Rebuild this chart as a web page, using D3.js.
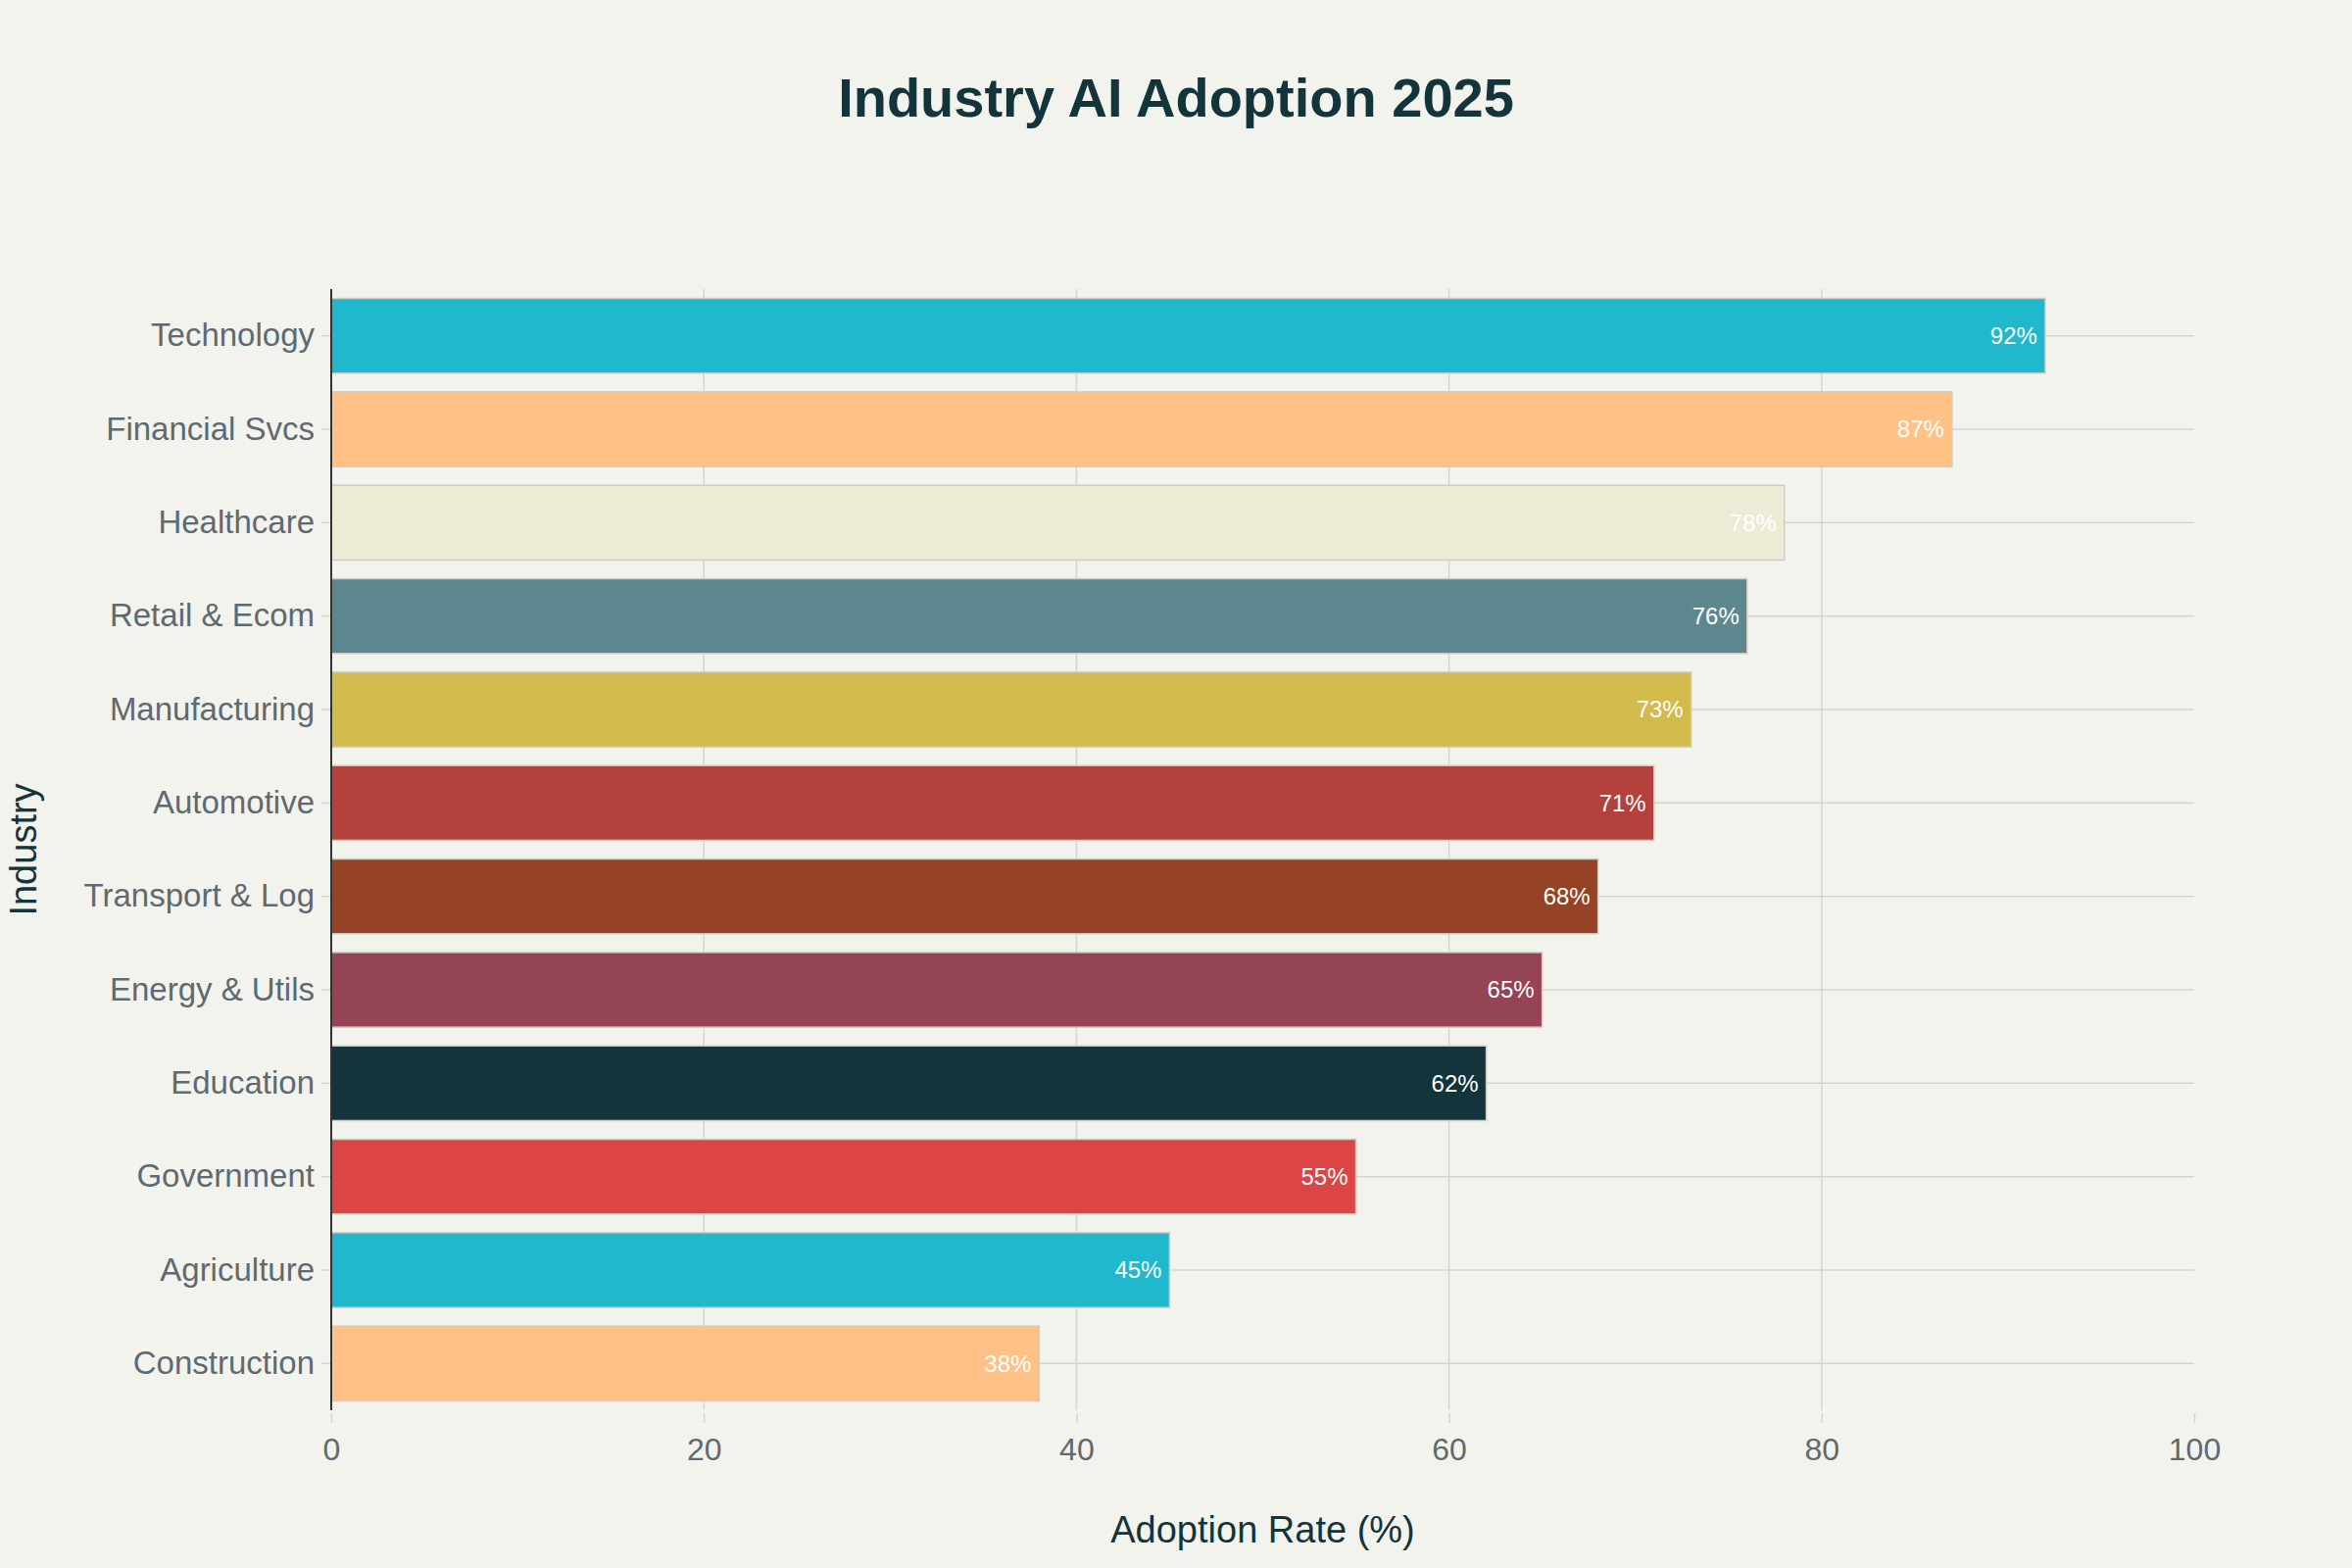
<!DOCTYPE html>
<html>
<head>
<meta charset="utf-8">
<script src="https://cdn.jsdelivr.net/npm/d3@7"></script>
<style>
  html, body { margin: 0; padding: 0; background: #F3F3EE; }
  svg { display: block; font-family: "Liberation Sans", Arial, sans-serif; }
</style>
</head>
<body>
<svg></svg>
<script>
const industries = ["Technology", "Financial Svcs", "Healthcare", "Retail & Ecom", "Manufacturing",
    "Automotive", "Transport & Log", "Energy & Utils", "Education", "Government", "Agriculture", "Construction"];
const adoption = [92, 87, 78, 76, 73, 71, 68, 65, 62, 55, 45, 38];
const xTicks = [0, 20, 40, 60, 80, 100];

const palette = ["#1FB8CD", "#FFC185", "#ECEBD5", "#5D878F", "#D2BA4C",
    "#B4413C", "#964325", "#944454", "#13343B", "#DB4545"];

const data = industries.map((name, i) => ({ name, value: adoption[i], color: palette[i % palette.length] }));

const width = 2400;
const height = 1600;
const margin = { top: 295, right: 161, bottom: 161, left: 338 };

const svg = d3.select("svg")
    .attr("width", width)
    .attr("height", height);

svg.append("rect").attr("width", width).attr("height", height).attr("fill", "#F3F3EE");

const x = d3.scaleLinear()
    .domain([0, 100])
    .range([margin.left, width - margin.right]);

const y = d3.scaleBand()
    .domain(industries)
    .range([margin.top, height - margin.bottom])
    .paddingInner(0.2)
    .paddingOuter(0.1);

const gridColor = "#D6D4CE";

// vertical grid
svg.append("g")
    .selectAll("line")
    .data(xTicks.filter(d => d > 0 && d < 100))
    .enter().append("line")
    .attr("x1", d => x(d)).attr("x2", d => x(d))
    .attr("y1", margin.top).attr("y2", height - margin.bottom)
    .attr("stroke", gridColor).attr("stroke-width", 1.5);

// category grid
svg.append("g")
    .selectAll("line")
    .data(industries)
    .enter().append("line")
    .attr("x1", margin.left).attr("x2", width - margin.right)
    .attr("y1", d => y(d) + y.bandwidth() / 2).attr("y2", d => y(d) + y.bandwidth() / 2)
    .attr("stroke", gridColor).attr("stroke-width", 1.5);

// bars
svg.append("g")
    .selectAll("rect")
    .data(data)
    .enter().append("rect")
    .attr("x", x(0))
    .attr("y", d => y(d.name))
    .attr("width", d => x(d.value) - x(0))
    .attr("height", y.bandwidth())
    .attr("fill", d => d.color)
    .attr("stroke", "#CFCCC2")
    .attr("stroke-width", 1.5);

// value labels
svg.append("g")
    .selectAll("text")
    .data(data)
    .enter().append("text")
    .attr("x", d => x(d.value) - 8)
    .attr("y", d => y(d.name) + y.bandwidth() / 2)
    .attr("dy", "0.35em")
    .attr("text-anchor", "end")
    .attr("fill", "#FFFFFF")
    .attr("font-size", 24)
    .text(d => `${d.value}%`);

// x axis
const xAxis = svg.append("g")
    .attr("transform", `translate(0,${height - margin.bottom})`)
    .call(d3.axisBottom(x).tickValues(xTicks).tickSize(0).tickPadding(0));
xAxis.select(".domain").remove();
xAxis.selectAll(".tick line").remove();
xAxis.selectAll(".tick").append("line")
    .attr("y1", 3).attr("y2", 13)
    .attr("stroke", gridColor).attr("stroke-width", 1.5);
xAxis.selectAll(".tick text")
    .attr("y", 51)
    .attr("dy", 0)
    .attr("font-size", 32)
    .attr("font-family", "Liberation Sans, Arial, sans-serif")
    .attr("fill", "#5E6A70");

// y axis
const yAxis = svg.append("g")
    .attr("transform", `translate(${margin.left},0)`)
    .call(d3.axisLeft(y).tickSize(0).tickPadding(0));
yAxis.select(".domain").remove();
yAxis.selectAll(".tick line").remove();
yAxis.selectAll(".tick").append("line")
    .attr("x1", -10).attr("x2", -1)
    .attr("stroke", gridColor).attr("stroke-width", 1.5);
yAxis.selectAll(".tick text")
    .attr("x", -17)
    .attr("font-size", 33)
    .attr("font-family", "Liberation Sans, Arial, sans-serif")
    .attr("fill", "#5E6A70");

svg.append("line")
    .attr("x1", margin.left).attr("x2", margin.left)
    .attr("y1", margin.top).attr("y2", height - margin.bottom)
    .attr("stroke", "#333333").attr("stroke-width", 2);

// titles
svg.append("text")
    .attr("x", (margin.left + width - margin.right) / 2)
    .attr("y", 1574)
    .attr("text-anchor", "middle")
    .attr("font-size", 38)
    .attr("fill", "#13343B")
    .text("Adoption Rate (%)");

svg.append("text")
    .attr("transform", `translate(37,${(margin.top + height - margin.bottom) / 2}) rotate(-90)`)
    .attr("text-anchor", "middle")
    .attr("font-size", 38)
    .attr("fill", "#13343B")
    .text("Industry");

svg.append("text")
    .attr("x", width / 2)
    .attr("y", 119)
    .attr("text-anchor", "middle")
    .attr("font-size", 56)
    .attr("font-weight", "bold")
    .attr("fill", "#13343B")
    .text("Industry AI Adoption 2025");
</script>
</body>
</html>
